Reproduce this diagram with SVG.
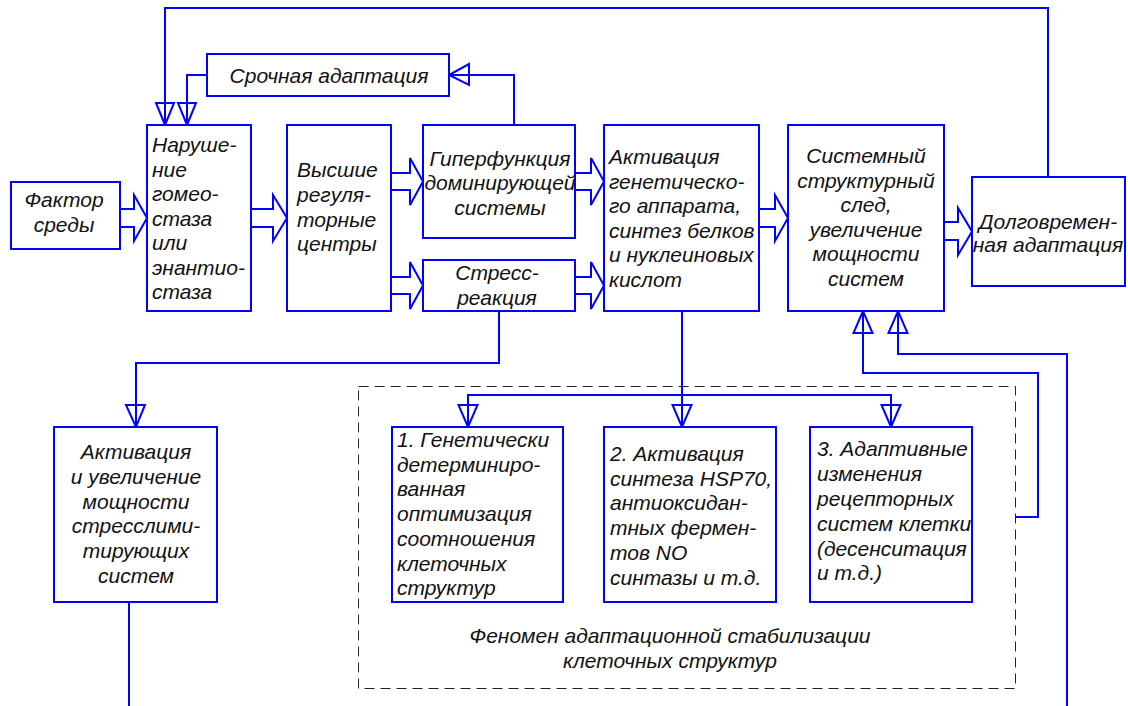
<svg xmlns="http://www.w3.org/2000/svg" width="1128" height="706" viewBox="0 0 1128 706">
<style>
.box{fill:#fff;stroke:#0000ff;stroke-width:2}
.ln{fill:none;stroke:#0000ff;stroke-width:2;stroke-linejoin:miter}
.ah{fill:none;stroke:#0000ff;stroke-width:2;stroke-linejoin:miter}
.t{font-family:"Liberation Sans",Arial,sans-serif;font-style:italic;font-size:21px;fill:#111}
.c{text-anchor:middle}
.dash{fill:none;stroke:#222;stroke-width:1;stroke-dasharray:10,6}
</style>
<rect width="1128" height="706" fill="#fff"/>
<rect class="dash" x="358.5" y="386.5" width="657" height="302"/>
<g id="connectors">
<path class="ln" d="M1048,177 V8 H165 V125"/>
<polygon class="ah" points="156,103 174,103 165,125"/>
<path class="ln" d="M207,75 H187 V125"/>
<polygon class="ah" points="178,103 196,103 187,125"/>
<path class="ln" d="M514,125 V75 H449"/>
<polygon class="ah" points="469,64 469,85 449,75"/>
<path class="ln" d="M120,209 H134 V195 L147,218 L134,241 V227 H120"/>
<path class="ln" d="M251,209 H273 V195 L287,218 L273,241 V227 H251"/>
<path class="ln" d="M391,173 H410 V158 L423,181.5 L410,205 V190 H391"/>
<path class="ln" d="M391,277 H410 V262 L423,285.5 L410,309 V294 H391"/>
<path class="ln" d="M575,173 H591 V158 L604,181.5 L591,205 V190 H575"/>
<path class="ln" d="M575,277 H591 V262 L604,285.5 L591,309 V294 H575"/>
<path class="ln" d="M759,209 H775 V195 L788,218 L775,241 V227 H759"/>
<path class="ln" d="M944,222 H958 V208 L972,231.5 L958,255 V240 H944"/>
<path class="ln" d="M499,311 V363 H136 V427"/>
<polygon class="ah" points="126,405 145,405 136,427"/>
<path class="ln" d="M682,311 V427"/>
<path class="ln" d="M468,427 V395 H891 V427"/>
<polygon class="ah" points="458.5,405 477.5,405 468,427"/>
<polygon class="ah" points="672.5,405 691.5,405 682,427"/>
<polygon class="ah" points="881.5,405 900.5,405 891,427"/>
<path class="ln" d="M1015,517 H1038 V373 H863 V311"/>
<polygon class="ah" points="853.5,333 872.5,333 863,311"/>
<path class="ln" d="M1067,706 V354 H898 V311"/>
<polygon class="ah" points="888.5,333 907.5,333 898,311"/>
<path class="ln" d="M129,602 V706"/>
</g>
<g id="n-factor"><rect class="box" x="11" y="182" width="109" height="67"/>
<text class="t c" x="64" y="207">Фактор</text><text class="t c" x="64" y="232">среды</text></g>
<g id="n-narush"><rect class="box" x="147" y="125" width="104" height="186"/>
<text class="t" x="152"><tspan x="152" y="152">Наруше-</tspan><tspan x="152" y="176.5">ние</tspan><tspan x="152" y="201">гомео-</tspan><tspan x="152" y="225.5">стаза</tspan><tspan x="152" y="250">или</tspan><tspan x="152" y="274.5">энантио-</tspan><tspan x="152" y="299">стаза</tspan></text></g>
<g id="n-vysshie"><rect class="box" x="287" y="125" width="104" height="186"/>
<text class="t"><tspan x="297" y="177">Высшие</tspan><tspan x="297" y="202">регуля-</tspan><tspan x="297" y="227">торные</tspan><tspan x="297" y="251">центры</tspan></text></g>
<g id="n-srochnaya"><rect class="box" x="207" y="54" width="242" height="42"/>
<text class="t c" x="329" y="83">Срочная адаптация</text></g>
<g id="n-giper"><rect class="box" x="423" y="125" width="152" height="113"/>
<text class="t c"><tspan x="500" y="166">Гиперфункция</tspan><tspan x="500" y="190">доминирующей</tspan><tspan x="500" y="215">системы</tspan></text></g>
<g id="n-stress"><rect class="box" x="423" y="260" width="152" height="51"/>
<text class="t c"><tspan x="497" y="280">Стресс-</tspan><tspan x="497" y="305">реакция</tspan></text></g>
<g id="n-aktiv-gen"><rect class="box" x="604" y="125" width="155" height="186"/>
<text class="t"><tspan x="609" y="164">Активация</tspan><tspan x="609" y="188.5">генетическо-</tspan><tspan x="609" y="213">го аппарата,</tspan><tspan x="609" y="237.5">синтез белков</tspan><tspan x="609" y="262">и нуклеиновых</tspan><tspan x="609" y="286.5">кислот</tspan></text></g>
<g id="n-sistemny"><rect class="box" x="788" y="125" width="156" height="186"/>
<text class="t c"><tspan x="866" y="163">Системный</tspan><tspan x="866" y="188">структурный</tspan><tspan x="866" y="212">след,</tspan><tspan x="866" y="237">увеличение</tspan><tspan x="866" y="261">мощности</tspan><tspan x="866" y="286">систем</tspan></text></g>
<g id="n-dolgovr"><rect class="box" x="972" y="177" width="153" height="109"/>
<text class="t c"><tspan x="1048" y="229">Долговремен-</tspan><tspan x="1048" y="252">ная адаптация</tspan></text></g>
<g id="n-aktiv-uvel"><rect class="box" x="54" y="427" width="163" height="175"/>
<text class="t c"><tspan x="136" y="459">Активация</tspan><tspan x="136" y="484">и увеличение</tspan><tspan x="136" y="509">мощности</tspan><tspan x="136" y="533">стресслими-</tspan><tspan x="136" y="558">тирующих</tspan><tspan x="136" y="583">систем</tspan></text></g>
<g id="n-box1"><rect class="box" x="392" y="427" width="171" height="175"/>
<text class="t"><tspan x="397" y="447">1. Генетически</tspan><tspan x="397" y="471.7">детерминиро-</tspan><tspan x="397" y="496.4">ванная</tspan><tspan x="397" y="521">оптимизация</tspan><tspan x="397" y="545.8">соотношения</tspan><tspan x="397" y="570.5">клеточных</tspan><tspan x="397" y="595">структур</tspan></text></g>
<g id="n-box2"><rect class="box" x="604" y="427" width="172" height="175"/>
<text class="t"><tspan x="610" y="461">2. Активация</tspan><tspan x="610" y="486">синтеза HSP70,</tspan><tspan x="610" y="510">антиоксидан-</tspan><tspan x="610" y="535">тных фермен-</tspan><tspan x="610" y="560">тов NO</tspan><tspan x="610" y="585">синтазы и т.д.</tspan></text></g>
<g id="n-box3"><rect class="box" x="810" y="427" width="162" height="175"/>
<text class="t"><tspan x="817" y="456">3. Адаптивные</tspan><tspan x="817" y="481">изменения</tspan><tspan x="817" y="506">рецепторных</tspan><tspan x="817" y="531">систем клетки</tspan><tspan x="817" y="556">(десенситация</tspan><tspan x="817" y="580">и т.д.)</tspan></text></g>
<g id="caption"><text class="t c"><tspan x="670" y="643">Феномен адаптационной стабилизации</tspan><tspan x="670" y="668">клеточных структур</tspan></text></g>
</svg>
